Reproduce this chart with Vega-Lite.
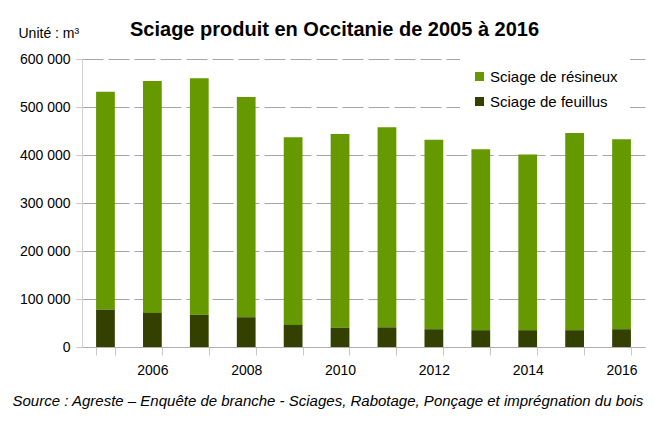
{
  "$schema": "https://vega.github.io/schema/vega-lite/v6.json",
  "autosize": {"type": "none"},
  "width": 563,
  "height": 288,
  "padding": {"left": 82, "top": 59, "right": 9, "bottom": 74},
  "background": "white",
  "title": {
    "text": "Sciage produit en Occitanie de 2005 à 2016",
    "anchor": "start",
    "frame": "group",
    "dx": 48,
    "dy": 30,
    "offset": 0,
    "baseline": "alphabetic",
    "font": "Liberation Sans",
    "fontSize": 20,
    "fontWeight": "bold",
    "color": "#000000"
  },
  "data": {
    "values": [
      {"year": 2005, "type": "Sciage de résineux", "value": 454000},
      {"year": 2005, "type": "Sciage de feuillus", "value": 78000},
      {"year": 2006, "type": "Sciage de résineux", "value": 483000},
      {"year": 2006, "type": "Sciage de feuillus", "value": 71000},
      {"year": 2007, "type": "Sciage de résineux", "value": 493000},
      {"year": 2007, "type": "Sciage de feuillus", "value": 67000},
      {"year": 2008, "type": "Sciage de résineux", "value": 459000},
      {"year": 2008, "type": "Sciage de feuillus", "value": 62000},
      {"year": 2009, "type": "Sciage de résineux", "value": 391000},
      {"year": 2009, "type": "Sciage de feuillus", "value": 46000},
      {"year": 2010, "type": "Sciage de résineux", "value": 404000},
      {"year": 2010, "type": "Sciage de feuillus", "value": 40000},
      {"year": 2011, "type": "Sciage de résineux", "value": 417000},
      {"year": 2011, "type": "Sciage de feuillus", "value": 41000},
      {"year": 2012, "type": "Sciage de résineux", "value": 395000},
      {"year": 2012, "type": "Sciage de feuillus", "value": 37000},
      {"year": 2013, "type": "Sciage de résineux", "value": 377000},
      {"year": 2013, "type": "Sciage de feuillus", "value": 35000},
      {"year": 2014, "type": "Sciage de résineux", "value": 366000},
      {"year": 2014, "type": "Sciage de feuillus", "value": 35000},
      {"year": 2015, "type": "Sciage de résineux", "value": 411000},
      {"year": 2015, "type": "Sciage de feuillus", "value": 35000},
      {"year": 2016, "type": "Sciage de résineux", "value": 396000},
      {"year": 2016, "type": "Sciage de feuillus", "value": 37000}
    ]
  },
  "mark": {"type": "bar"},
  "encoding": {
    "x": {
      "field": "year",
      "type": "ordinal",
      "scale": {"paddingInner": 0.6, "paddingOuter": 0.3},
      "axis": {
        "title": "Source : Agreste – Enquête de branche  - Sciages, Rabotage, Ponçage et imprégnation du bois",
        "titleFont": "Liberation Sans",
        "titleFontSize": 15,
        "titleFontStyle": "italic",
        "titleFontWeight": "normal",
        "titleColor": "#000000",
        "titleAnchor": "start",
        "titleAlign": "left",
        "titleBaseline": "middle",
        "titleX": -70,
        "titleY": 53,
        "labelAngle": 0,
        "labelExpr": "datum.value % 2 == 0 ? datum.label : ''",
        "labelFont": "Liberation Sans",
        "labelFontSize": 14,
        "labelColor": "#000000",
        "labelPadding": 8,
        "tickBand": "extent",
        "tickSize": 8,
        "tickColor": "#c8c8c8",
        "domainColor": "#b0b0b0",
        "grid": false
      }
    },
    "y": {
      "field": "value",
      "type": "quantitative",
      "stack": "zero",
      "scale": {"domain": [0, 600000], "nice": false},
      "axis": {
        "values": [0, 100000, 200000, 300000, 400000, 500000, 600000],
        "labelExpr": "replace(format(datum.value, ','), ',', ' ')",
        "title": "Unité : m³",
        "titleFont": "Liberation Sans",
        "titleFontSize": 14,
        "titleFontWeight": "normal",
        "titleColor": "#000000",
        "titleAngle": 0,
        "titleAlign": "left",
        "titleBaseline": "middle",
        "titleX": -64,
        "titleY": -26,
        "labelFont": "Liberation Sans",
        "labelFontSize": 14,
        "labelColor": "#000000",
        "labelPadding": 6,
        "tickSize": 6,
        "tickColor": "#c8c8c8",
        "domainColor": "#d0d0d0",
        "grid": true,
        "gridColor": "#a6a6a6",
        "gridDash": [21, 5],
        "gridWidth": 1
      }
    },
    "color": {
      "field": "type",
      "type": "nominal",
      "scale": {
        "domain": ["Sciage de résineux", "Sciage de feuillus"],
        "range": ["#669900", "#334000"]
      },
      "legend": {
        "title": null,
        "orient": "none",
        "legendX": 378,
        "legendY": -2,
        "padding": 12,
        "fillColor": "white",
        "symbolType": "square",
        "symbolSize": 81,
        "symbolStrokeWidth": 0,
        "labelFont": "Liberation Sans",
        "labelFontSize": 15,
        "labelColor": "#000000",
        "labelOffset": 3,
        "rowPadding": 9
      }
    },
    "order": {"field": "type", "sort": "ascending"}
  },
  "config": {
    "view": {"stroke": null},
    "axis": {"labelFont": "Liberation Sans"}
  }
}
